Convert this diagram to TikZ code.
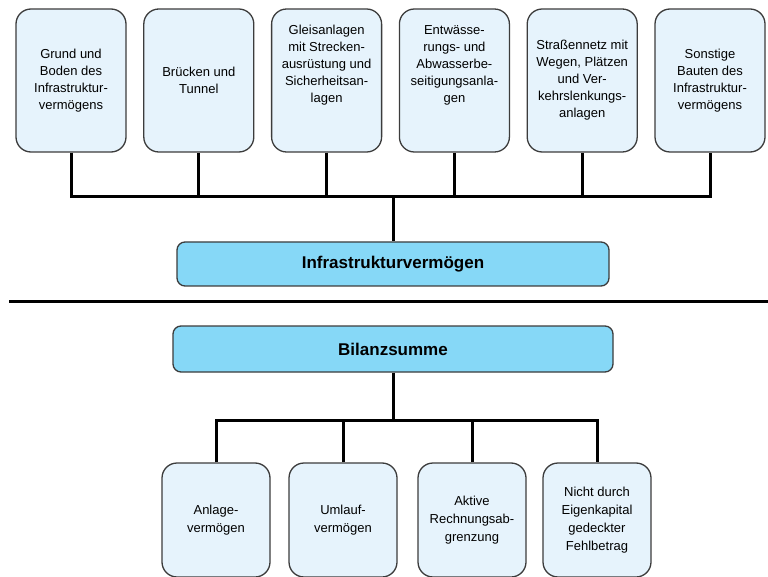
\documentclass[tikz,border=0pt]{standalone}
\usepackage{fontspec}
\setmainfont{Liberation Sans}

\definecolor{boxfill}{HTML}{E6F3FC}
\definecolor{sumfill}{HTML}{86D8F7}
\definecolor{boxline}{HTML}{3C3C3C}

\tikzset{
  part/.style={draw=boxline, line width=1.3pt, fill=boxfill, rounded corners=15pt,
    minimum width=110pt, inner sep=0pt},
  parttext/.style={align=center, font=\fontsize{13}{17}\selectfont, inner sep=0pt},
  total/.style={draw=boxline, line width=1.3pt, fill=sumfill, rounded corners=8pt,
    font=\bfseries\fontsize{17}{20}\selectfont, inner sep=0pt},
  link/.style={line width=3pt}
}

\begin{document}
\begin{tikzpicture}[x=1pt, y=-1pt]
\useasboundingbox (0,0) rectangle (768,577);

% Teile des Infrastrukturvermoegens
\foreach \i/\x/\dy/\txt in {
    1/71/0/{Grund und\\Boden des\\Infrastruktur-\\vermögens},
    2/198.8/0/{Brücken und\\Tunnel},
    3/326.6/-15/{Gleisanlagen\\mit Strecken-\\ausrüstung und\\Sicherheitsan-\\lagen},
    4/454.4/-15/{Entwässe-\\rungs- und\\Abwasserbe-\\seitigungsanla-\\gen},
    5/582.2/0/{Straßennetz mit\\Wegen, Plätzen\\und Ver-\\kehrslenkungs-\\anlagen},
    6/710/0/{Sonstige\\Bauten des\\Infrastruktur-\\vermögens}} {
        \node [part, minimum height=143pt] (b\i) at (\x,80.5) {};
        \node [parttext] (t\i) at ([yshift=-\dy pt]b\i.center) {\txt};
    }

\node [total, minimum width=432pt, minimum height=44pt] (infra) at (393,264) {Infrastrukturvermögen};
\coordinate (top) at (393,197);

\draw [link] (b1.south) -- (b1.south |- top) -- (b6.south |- top) -- (b6.south);
\foreach \i in {2,...,5}
    \draw [link] (b\i.south) -- (b\i.south |- top);
\draw [link] (top) -- (infra.north);

% Trennlinie
\draw [link] (9,301) -- (768,301);

\node [total, minimum width=440pt, minimum height=46pt] (sum) at (393,349) {Bilanzsumme};
\coordinate (bottom) at (393,420);

% Posten der Bilanz
\foreach \i/\x/\txt in {
    1/216/{Anlage-\\vermögen},
    2/343/{Umlauf-\\vermögen},
    3/472/{Aktive\\Rechnungsab-\\grenzung},
    4/597/{Nicht durch\\Eigenkapital\\gedeckter\\Fehlbetrag}} {
        \node [part, minimum width=108pt, minimum height=114pt] (p\i) at (\x,520) {};
        \node [parttext, font=\fontsize{13}{18}\selectfont] (q\i) at (p\i.center) {\txt};
    }

\draw [link] (p1.north) -- (p1.north |- bottom) -- (p4.north |- bottom) -- (p4.north);
\foreach \i in {2,3}
    \draw [link] (p\i.north) -- (p\i.north |- bottom);
\draw [link] (sum.south) -- (bottom);

\end{tikzpicture}
\end{document}
